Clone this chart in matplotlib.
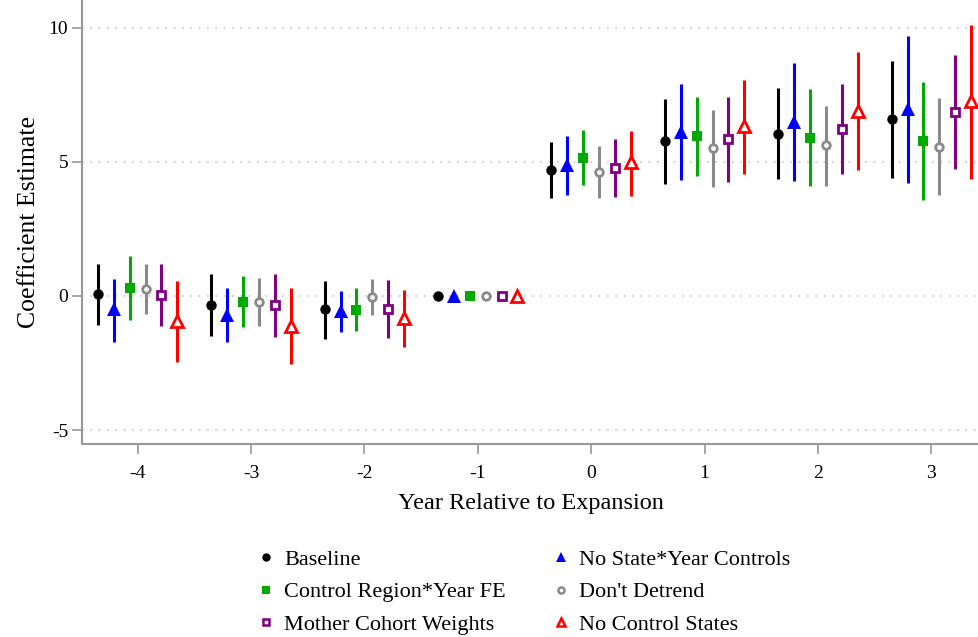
#!/usr/bin/env python3
# -*- coding: utf-8 -*-
# event study coefficient plot, six specifications

import numpy as np
import matplotlib
matplotlib.use('Agg')
import matplotlib.pyplot as plt
from matplotlib.lines import Line2D

plt.rcParams['font.family'] = ['Liberation Serif', 'DejaVu Serif']
plt.rcParams['axes.unicode_minus'] = False

years = [-4, -3, -2, -1, 0, 1, 2, 3]

labels = ['Baseline', 'No State*Year Controls', 'Control Region*Year FE',
          "Don't Detrend", 'Mother Cohort Weights', 'No Control States']

# point estimates
baseline    = [0.07, -0.32, -0.50, 0.0, 4.70, 5.77, 6.06, 6.60]
no_state    = [-0.50, -0.71, -0.55, 0.0, 4.88, 6.13, 6.49, 6.99]
region_fe   = [0.31, -0.21, -0.51, 0.0, 5.16, 5.95, 5.91, 5.78]
no_detrend  = [0.25, -0.21, -0.05, 0.0, 4.63, 5.52, 5.62, 5.57]
cohort_wts  = [0.04, -0.35, -0.47, 0.0, 4.79, 5.87, 6.24, 6.85]
no_control  = [-0.93, -1.11, -0.83, 0.0, 4.99, 6.33, 6.90, 7.29]

# 95% CI bounds
baseline_lo   = [-1.08, -1.48, -1.59, 0.0, 3.65, 4.18, 4.35, 4.40]
baseline_hi   = [1.19, 0.81, 0.57, 0.0, 5.73, 7.35, 7.77, 8.77]
no_state_lo   = [-1.70, -1.70, -1.35, 0.0, 3.77, 4.32, 4.29, 4.22]
no_state_hi   = [0.62, 0.29, 0.20, 0.0, 5.96, 7.91, 8.69, 9.70]
region_fe_lo  = [-0.90, -1.17, -1.29, 0.0, 4.13, 4.47, 4.10, 3.59]
region_fe_hi  = [1.49, 0.75, 0.29, 0.0, 6.18, 7.41, 7.71, 7.97]
no_detrend_lo = [-0.68, -1.11, -0.72, 0.0, 3.66, 4.08, 4.12, 3.77]
no_detrend_hi = [1.18, 0.68, 0.62, 0.0, 5.59, 6.95, 7.10, 7.38]
cohort_wts_lo = [-1.13, -1.53, -1.56, 0.0, 3.68, 4.27, 4.55, 4.75]
cohort_wts_hi = [1.19, 0.82, 0.58, 0.0, 5.87, 7.44, 7.91, 8.97]
no_control_lo = [-2.47, -2.53, -1.91, 0.0, 3.74, 4.56, 4.70, 4.38]
no_control_hi = [0.55, 0.29, 0.21, 0.0, 6.17, 8.05, 9.09, 10.10]

ests = [baseline, no_state, region_fe, no_detrend, cohort_wts, no_control]
los = [baseline_lo, no_state_lo, region_fe_lo, no_detrend_lo, cohort_wts_lo, no_control_lo]
his = [baseline_hi, no_state_hi, region_fe_hi, no_detrend_hi, cohort_wts_hi, no_control_hi]

# style per series: colour, marker, filled?, marker size
styles = [('black',   'o', True,  7.5),
          ('#0000ff', '^', True,  9.5),
          ('#00aa00', 's', True,  7.5),
          ('#8a8a8a', 'o', False, 5.5),
          ('#800080', 's', False, 6.0),
          ('#ff0000', '^', False, 8.0)]
offsets = [-0.35, -0.21, -0.07, 0.07, 0.21, 0.35]

fig = plt.figure(figsize=(9.79, 6.37), dpi=100)
ax = fig.add_axes([82/979, 193/637, 1 - 82/979, 444/637])

x = np.array(years, dtype=float)
for k in range(6):
    col, mk, filled, ms = styles[k]
    est = np.array(ests[k])
    lo = np.array(los[k])
    hi = np.array(his[k])
    xx = x + offsets[k]
    ax.vlines(xx, lo, hi, color=col, lw=2.2, zorder=2)
    ax.plot(xx, est, ls='none', marker=mk, ms=ms, color=col,
            mfc=col if filled else 'white', mec=col,
            mew=0 if filled else 2.0, zorder=3)

ax.set_xlim(-4.49, 3.42)
ax.set_ylim(-5.52, 11.04)
ax.set_xticks(years)
ax.set_yticks([-5, 0, 5, 10])
ax.grid(axis='y', color='#c8c8c8', ls=(0, (1, 4)), lw=1.2)
ax.set_axisbelow(True)

for s in ['top', 'right']:
    ax.spines[s].set_visible(False)
for s in ['left', 'bottom']:
    ax.spines[s].set_color('#999999')
    ax.spines[s].set_linewidth(1.5)
ax.tick_params(axis='x', colors='#999999', length=7, width=1.2, labelsize=14,
               labelcolor='black', pad=8)
ax.tick_params(axis='y', colors='#999999', length=7, width=1.2, labelsize=14,
               labelcolor='black', pad=3)

ax.set_xlabel('Year Relative to Expansion', fontsize=17.5, labelpad=8)
ax.set_ylabel('Coefficient Estimate', fontsize=18.5, labelpad=6)

# legend, filled column-wise
handles = []
for k in range(6):
    col, mk, filled, ms = styles[k]
    handles.append(Line2D([], [], ls='none', marker=mk, color=col,
                          mfc=col if filled else 'white', mec=col,
                          ms=ms * 0.8, mew=0 if filled else 1.8))
order = [0, 2, 4, 1, 3, 5]
fig.legend([handles[i] for i in order], [labels[i] for i in order],
           loc='upper left', bbox_to_anchor=(245/979, 1 - 538/637), ncol=2,
           frameon=False, fontsize=16, handlelength=0.9, handletextpad=0.35,
           columnspacing=2.05, labelspacing=0.55, borderpad=0)

fig.savefig('out.png', dpi=100)
